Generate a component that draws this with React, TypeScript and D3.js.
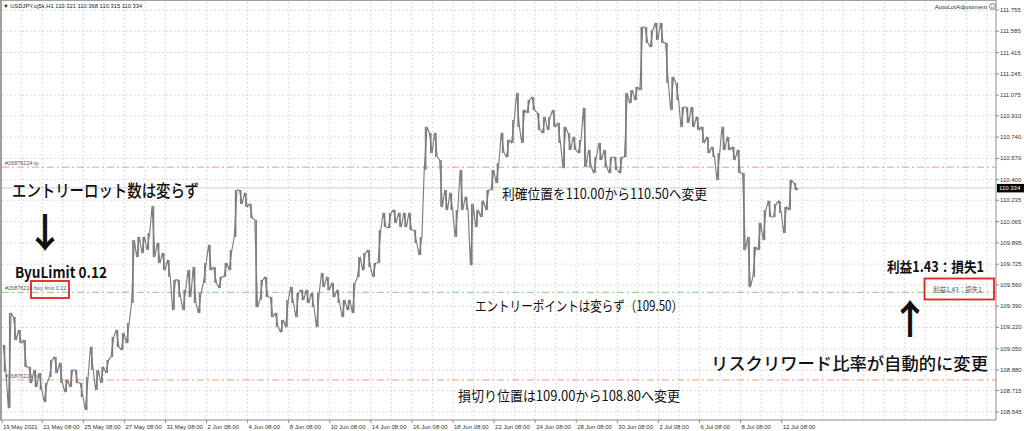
import React from 'react';
import * as d3 from 'd3';

// H1 bars aggregated in 6-hour buckets (high / low), 19 May 2021 -> 13 Jul 2021
const highs = [
  109.080, 109.335, 109.303, 109.199, 109.119, 108.904, 108.880, 108.856, 108.776, 108.960,
  108.984, 108.936, 108.800, 108.880, 108.880, 108.776, 108.824, 109.064, 108.880, 108.904,
  108.960, 109.143, 109.199, 109.175, 109.255, 109.918, 109.942, 109.942, 109.974, 110.190,
  109.894, 109.814, 109.758, 109.599, 109.599, 109.519, 109.678, 109.702, 109.495, 109.734,
  109.878, 109.702, 109.623, 109.734, 109.838, 110.317, 110.317, 110.294, 110.206, 110.078,
  109.599, 109.623, 109.463, 109.335, 109.279, 109.439, 109.543, 109.495, 109.519, 109.519,
  109.495, 109.495, 109.654, 109.623, 109.575, 109.519, 109.439, 109.439, 109.575, 109.782,
  109.814, 109.838, 109.734, 109.998, 110.134, 110.134, 110.158, 110.134, 110.134, 110.134,
  109.998, 109.942, 110.821, 110.773, 110.773, 110.557, 110.317, 110.294, 110.158, 110.477,
  110.262, 110.206, 110.158, 110.230, 110.317, 110.477, 110.533, 110.773, 110.717, 110.877,
  111.092, 110.956, 111.036, 111.060, 110.933, 110.901, 110.901, 110.956, 110.853, 110.821,
  110.773, 110.741, 110.717, 110.972, 110.637, 110.581, 110.693, 110.637, 110.581, 110.581,
  110.581, 111.092, 111.116, 111.140, 111.619, 111.619, 111.595, 111.651, 111.651, 111.492,
  111.220, 111.172, 110.980, 110.980, 110.980, 110.901, 110.821, 110.741, 110.661, 110.613,
  110.821, 110.741, 110.661, 110.637, 110.453, 109.942, 109.862, 110.054, 110.158, 110.230,
  110.206, 110.230, 110.182, 110.397, 110.373,
];
const lows = [
  108.864, 108.576, 109.119, 109.095, 108.904, 108.776, 108.744, 108.720, 108.624, 108.824,
  108.856, 108.776, 108.704, 108.744, 108.776, 108.664, 108.560, 108.880, 108.720, 108.776,
  108.856, 108.984, 109.064, 109.040, 109.095, 109.415, 109.782, 109.814, 109.838, 109.782,
  109.734, 109.678, 109.623, 109.359, 109.463, 109.359, 109.463, 109.415, 109.335, 109.575,
  109.678, 109.575, 109.535, 109.623, 109.678, 109.942, 110.206, 110.182, 110.094, 109.383,
  109.439, 109.463, 109.303, 109.223, 109.183, 109.223, 109.415, 109.303, 109.439, 109.415,
  109.383, 109.223, 109.543, 109.519, 109.463, 109.415, 109.303, 109.359, 109.335, 109.623,
  109.678, 109.702, 109.623, 109.734, 110.022, 110.014, 110.054, 110.022, 110.022, 109.998,
  109.894, 109.798, 110.477, 110.613, 110.581, 110.182, 110.158, 110.158, 109.942, 110.158,
  110.158, 109.718, 110.022, 110.102, 110.158, 110.317, 110.373, 110.613, 110.581, 110.693,
  110.821, 110.693, 110.933, 110.956, 110.797, 110.773, 110.797, 110.821, 110.693, 110.493,
  110.637, 110.637, 110.613, 110.501, 110.501, 110.453, 110.557, 110.501, 110.453, 110.477,
  110.453, 110.581, 111.012, 111.036, 111.116, 111.492, 111.460, 111.516, 111.492, 111.172,
  110.956, 111.036, 110.821, 110.853, 110.821, 110.797, 110.693, 110.613, 110.581, 110.397,
  110.637, 110.637, 110.557, 110.453, 109.838, 109.543, 109.623, 109.838, 109.918, 110.102,
  110.102, 110.134, 109.974, 110.158, 110.317,
];
const lastClose = 110.334;
const headerText = '▼ USDJPY.oj5k,H1  110.321 110.368 110.315 110.334';
const priceTicks = [
  111.755, 111.585, 111.415, 111.245, 111.075, 110.91, 110.74, 110.57, 110.4, 110.235,
  110.065, 109.895, 109.725, 109.56, 109.39, 109.22, 109.05, 108.88, 108.715, 108.545,
];
const timeLabels = [
  '19 May 2021', '21 May 08:00', '25 May 08:00', '27 May 08:00', '31 May 08:00', '2 Jun 08:00',
  '4 Jun 08:00', '8 Jun 08:00', '10 Jun 08:00', '14 Jun 08:00', '16 Jun 08:00', '18 Jun 08:00',
  '22 Jun 08:00', '24 Jun 08:00', '28 Jun 08:00', '30 Jun 08:00', '2 Jul 08:00', '6 Jul 08:00',
  '8 Jul 08:00', '12 Jul 08:00',
];
const tpPrice = 110.5;
const entryPrice = 109.5;
const slPrice = 108.8;
const orderId = '#26876224';

export default function App() {
  const W = 1024, H = 431;
  const right = 996, bottom = 420;
  const pxPerBar = 0.8558;
  const bucket = 6;
  const x = d3.scaleLinear().domain([0, 1200]).range([2, 2 + 1200 * pxPerBar]);
  const y = d3.scaleLinear().domain([108.545, 111.755]).range([411.9, 10]);

  const n = highs.length;
  const xs = highs.map((_, i) => x(i * bucket + 3));
  const pts: [number, number][] = [];
  for (let i = 0; i < n; i++) {
    const mid = (highs[i] + lows[i]) / 2;
    const nextMid = i < n - 1 ? (highs[i + 1] + lows[i + 1]) / 2 : lastClose;
    const up = nextMid > mid;
    const a = up ? lows[i] : highs[i];
    const b = up ? highs[i] : lows[i];
    pts.push([xs[i] - 1.4, y(a)], [xs[i] + 1.4, y(b)]);
  }
  pts.push([xs[n - 1] + 2.5, y(lastClose)]);
  const linePath = d3.line()(pts) || '';

  const gridBars = d3.range(-1, 1200, 24).filter((b) => x(b) < right - 1);
  const labelBars = timeLabels.map((_, k) => (k === 0 ? 0 : 47 + 48 * (k - 1)));

  const axisFont = 'Liberation Sans, Arial, sans-serif';
  const jp = '"Noto Sans CJK JP", "Noto Sans", sans-serif';
  const gridColor = '#d2d2d2';
  const lineGray = '#7d7d7d';

  return (
    <svg width={W} height={H} style={{ position: 'fixed', left: 0, top: 0, background: '#fff' }}>
      <rect x={0} y={0} width={W} height={H} fill="#fff" />
      {/* grid */}
      {gridBars.map((b) => (
        <line key={'gx' + b} x1={x(b)} x2={x(b)} y1={2} y2={bottom} stroke={gridColor} strokeDasharray="2,2" strokeWidth={0.8} />
      ))}
      {priceTicks.map((p) => (
        <line key={'gy' + p} x1={2} x2={right} y1={y(p)} y2={y(p)} stroke={gridColor} strokeDasharray="2,2" strokeWidth={0.8} />
      ))}
      {/* frame */}
      <line x1={0} x2={right} y1={0.5} y2={0.5} stroke="#a0a0a0" strokeWidth={1} />
      <line x1={1} x2={1} y1={0} y2={bottom} stroke="#a0a0a0" strokeWidth={2} />
      <line x1={right} x2={right} y1={0} y2={bottom} stroke="#8c8c8c" strokeWidth={1} />
      <line x1={0} x2={right} y1={bottom} y2={bottom} stroke="#8c8c8c" strokeWidth={1} />

      {/* bid line */}
      <line x1={2} x2={right} y1={y(lastClose)} y2={y(lastClose)} stroke="#cfcfcf" strokeWidth={1} />

      {/* order lines */}
      <line x1={2} x2={right} y1={y(tpPrice)} y2={y(tpPrice)} stroke="#f39a76" strokeWidth={1} strokeDasharray="7,3,2,3" />
      <line x1={2} x2={right} y1={y(entryPrice)} y2={y(entryPrice)} stroke="#7fcf7f" strokeWidth={1} strokeDasharray="7,3,2,3" />
      <line x1={2} x2={right} y1={y(slPrice)} y2={y(slPrice)} stroke="#f39a76" strokeWidth={1} strokeDasharray="7,3,2,3" />
      <text x={5} y={y(tpPrice) - 2} fontSize={5.5} fontFamily={axisFont} fill="#555">{orderId + ' tp'}</text>
      <text x={5} y={y(slPrice) - 2} fontSize={5.5} fontFamily={axisFont} fill="#555">{orderId + ' sl'}</text>
      <text x={5} y={y(entryPrice) - 2} fontSize={5.5} fontFamily={axisFont} fill="#555">{orderId}</text>
      <text x={34} y={y(entryPrice) - 2} fontSize={5.5} fontFamily={axisFont} fill="#555">buy limit 0.12</text>

      {/* price */}
      {highs.map((h, i) => (
        <rect key={'b' + i} x={xs[i] - 0.8} width={1.6} y={y(h)} height={Math.max(1, y(lows[i]) - y(h))} fill={lineGray} />
      ))}
      <path d={linePath} fill="none" stroke={lineGray} strokeWidth={1.15} strokeLinejoin="round" />

      {/* red boxes */}
      <rect x={31} y={281} width={38} height={17} fill="none" stroke="#e52222" strokeWidth={1.8} />
      <rect x={924.5} y={278.5} width={69.5} height={21} fill="none" stroke="#e52222" strokeWidth={1.8} />
      <text x={933} y={291.5} fontSize={6.5} fontFamily={jp} fill="#555">利益1.43：損失1</text>

      {/* x axis */}
      {labelBars.map((b, k) => (
        <g key={'xl' + k}>
          <line x1={x(b)} x2={x(b)} y1={bottom} y2={bottom + 3} stroke="#8c8c8c" />
          <text x={x(b) + 1} y={429} fontSize={6} fontFamily={axisFont} fill="#333">{timeLabels[k]}</text>
        </g>
      ))}
      {/* y axis */}
      {priceTicks.map((p) => (
        <g key={'yl' + p}>
          <line x1={right} x2={right + 3} y1={y(p)} y2={y(p)} stroke="#8c8c8c" />
          <text x={1000} y={y(p) + 2.1} fontSize={6} fontFamily={axisFont} fill="#333">{p.toFixed(3)}</text>
        </g>
      ))}
      <rect x={997} y={y(lastClose) - 4} width={27} height={8.5} fill="#000" />
      <text x={999} y={y(lastClose) + 2.2} fontSize={6} fontFamily={axisFont} fill="#fff">{lastClose.toFixed(3)}</text>

      {/* header */}
      <text x={3} y={8} fontSize={5.8} fontFamily={axisFont} fill="#222">{headerText}</text>
      <text x={987} y={9} fontSize={6.2} fontFamily={axisFont} fill="#333" textAnchor="end">AutoLotAdjustment</text>
      <circle cx={992.5} cy={6.5} r={3} fill="none" stroke="#666" strokeWidth={0.8} />
      <circle cx={991.4} cy={5.8} r={0.4} fill="#666" />
      <circle cx={993.6} cy={5.8} r={0.4} fill="#666" />
      <path d="M990.9,7.3 Q992.5,8.8 994.1,7.3" fill="none" stroke="#666" strokeWidth={0.6} />

      {/* annotations */}
      <text x={12} y={197} fontSize={17} fontFamily={jp} fontWeight={500} fill="#111" textLength={187} lengthAdjust="spacingAndGlyphs">エントリーロット数は変らず</text>
      <text x={45} y={247} fontSize={40} fontFamily={jp} fontWeight={700} fill="#111" textAnchor="middle">↓</text>
      <text x={15} y={278} fontSize={15} fontFamily={jp} fontWeight={700} fill="#111" textLength={92} lengthAdjust="spacingAndGlyphs">ByuLimit 0.12</text>
      <text x={502} y={199} fontSize={14} fontFamily={jp} fill="#111" textLength={205} lengthAdjust="spacingAndGlyphs">利確位置を110.00から110.50へ変更</text>
      <text x={475} y={311} fontSize={14} fontFamily={jp} fill="#111" textLength={208} lengthAdjust="spacingAndGlyphs">エントリーポイントは変らず（109.50）</text>
      <text x={458} y={401} fontSize={14} fontFamily={jp} fill="#111" textLength={222} lengthAdjust="spacingAndGlyphs">損切り位置は109.00から108.80へ変更</text>
      <text x={887} y={272} fontSize={14} fontFamily={jp} fontWeight={700} fill="#111" textLength={97} lengthAdjust="spacingAndGlyphs">利益1.43：損失1</text>
      <text x={910} y={334} fontSize={40} fontFamily={jp} fontWeight={700} fill="#111" textAnchor="middle">↑</text>
      <text x={711} y={369.5} fontSize={17.3} fontFamily={jp} fontWeight={500} fill="#111" textLength={277} lengthAdjust="spacingAndGlyphs">リスクリワード比率が自動的に変更</text>
    </svg>
  );
}
